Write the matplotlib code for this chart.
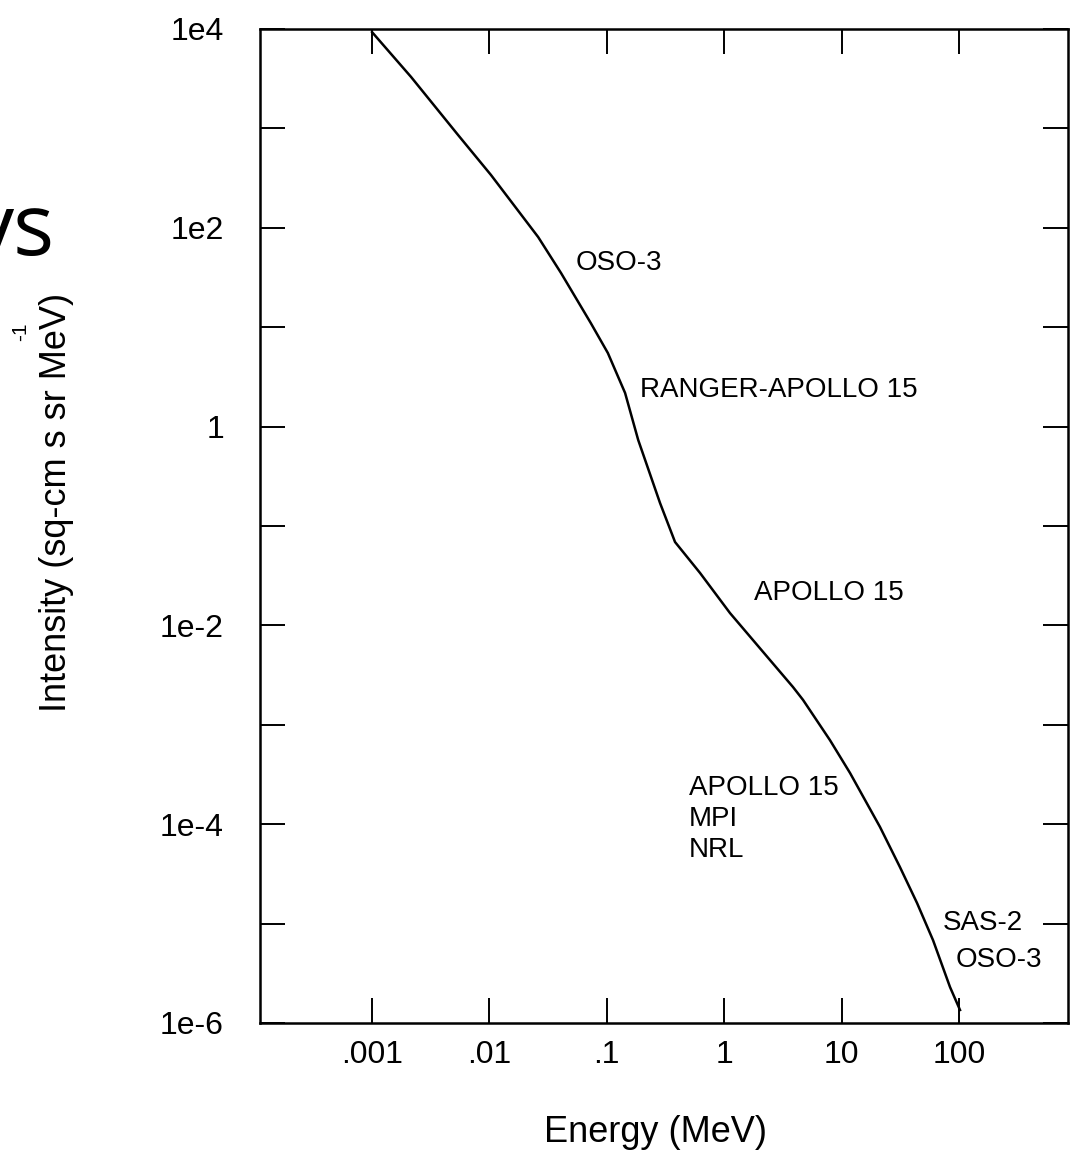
import matplotlib.pyplot as plt

plt.rcParams['font.family'] = ['Liberation Sans', 'DejaVu Sans']

# 读出的谱线数据 (MeV, sq-cm s sr MeV)^-1
energy = [1.0e-3, 2.15e-3, 5.4e-3, 1.03e-2, 2.6e-2, 4.07e-2, 7.3e-2, 0.102,
          0.143, 0.185, 0.284, 0.381, 0.622, 1.12, 2.45, 3.85, 4.69, 7.96,
          11.8, 21.2, 31.4, 43.9, 60.1, 83.8, 102]
intensity = [9.3e3, 3.29e3, 859, 340, 80.7, 35.1, 11.0, 5.5,
             2.18, 0.733, 0.170, 0.069, 0.0337, 0.0133, 4.49e-3, 2.40e-3,
             1.78e-3, 7.0e-4, 3.27e-4, 9.4e-5, 3.7e-5, 1.61e-5, 6.8e-6,
             2.3e-6, 1.35e-6]

x_ticks = [1e-3, 1e-2, 1e-1, 1, 10, 100]
x_labels = ['.001', '.01', '.1', '1', '10', '100']
y_ticks = [1e-6, 1e-5, 1e-4, 1e-3, 1e-2, 1e-1, 1, 10, 1e2, 1e3, 1e4]
y_labels = ['1e-6', '', '1e-4', '', '1e-2', '', '1', '', '1e2', '', '1e4']

# 仪器标注: (文字, 能量, 强度)
notes = ['OSO-3', 'RANGER-APOLLO 15', 'APOLLO 15', 'APOLLO 15\nMPI\nNRL',
         'SAS-2', 'OSO-3']
note_e = [0.0547, 0.192, 1.80, 0.501, 73.1, 94.2]
note_i = [44.3, 2.33, 0.0212, 1.14e-4, 1.01e-5, 4.3e-6]

W, H = 1082, 1157
fig = plt.figure(figsize=(W / 100, H / 100), dpi=100)
ax = fig.add_axes([260 / W, 1 - 1023 / H, (1068 - 260) / W, (1023 - 29) / H])

ax.plot(energy, intensity, color='black', linewidth=1.8)
ax.set_xscale('log')
ax.set_yscale('log')
ax.set_xlim(1.11e-4, 848)
ax.set_ylim(1e-6, 1e4)

ax.set_xticks(x_ticks)
ax.set_xticklabels(x_labels)
ax.set_yticks(y_ticks)
ax.set_yticklabels(y_labels)
ax.minorticks_off()
ax.tick_params(direction='in', length=18, width=1.4, top=True, right=True,
               labelsize=23)
ax.tick_params(axis='x', pad=12)
ax.tick_params(axis='y', pad=26)
for s in ax.spines.values():
    s.set_linewidth(1.8)

for txt, e, i in zip(notes, note_e, note_i):
    ax.text(e, i, txt, fontsize=20, ha='left', va='center', linespacing=1.25)

fig.text(57 / W, 1 - 502 / H, 'Intensity (sq-cm s sr MeV)', rotation=90,
         ha='center', va='center', fontsize=26)
fig.text(656 / W, 1 - 1133 / H, 'Energy (MeV)', ha='center', va='center',
         fontsize=26)

# 幻灯片残留文字
fig.text(55 / W, 1 - 255 / H, 'ys', ha='right', va='baseline', fontsize=62,
         family='Open Sans')
fig.text(21 / W, 1 - 332 / H, '-1', rotation=90, ha='center', va='center',
         fontsize=15)

fig.savefig('out.png', dpi=100)
